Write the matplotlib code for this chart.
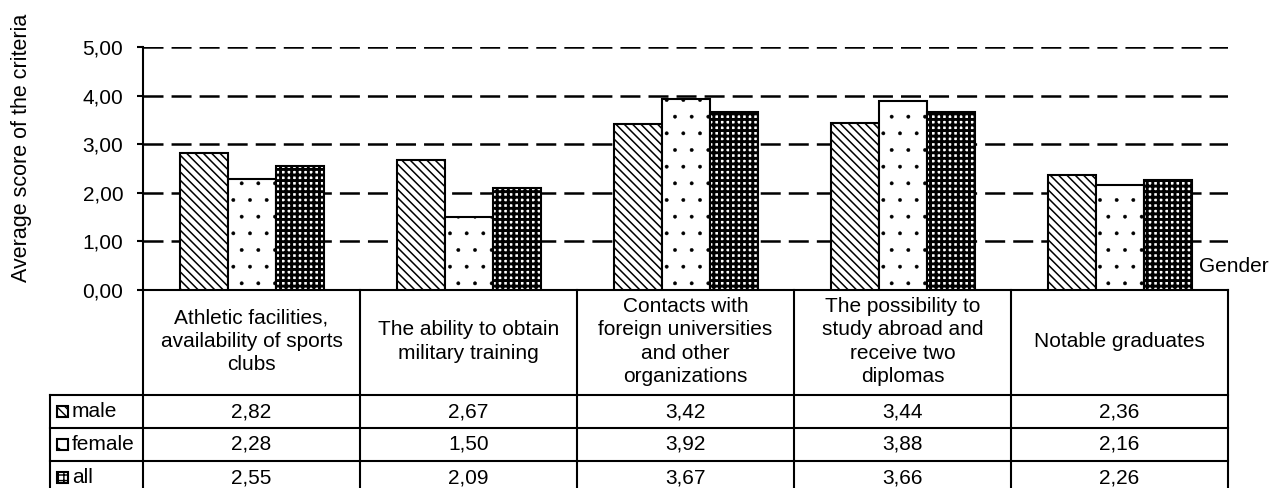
import numpy as np
import matplotlib
matplotlib.use('Agg')
import matplotlib.pyplot as plt
from matplotlib.patches import Rectangle
from matplotlib.ticker import FuncFormatter

# data
categories = ['Athletic facilities,\navailability of sports\nclubs',
              'The ability to obtain\nmilitary training',
              'Contacts with\nforeign universities\nand other\norganizations',
              'The possibility to\nstudy abroad and\nreceive two\ndiplomas',
              'Notable graduates']
series_names = ['male', 'female', 'all']
male = [2.82, 2.67, 3.42, 3.44, 2.36]
female = [2.28, 1.50, 3.92, 3.88, 2.16]
all_ = [2.55, 2.09, 3.67, 3.66, 2.26]
series = [male, female, all_]
hatches = ['\\\\\\\\', '.', '+++']
hatch_lw = [1.1, 0.3, 2.1]
y_ticks = [0, 1, 2, 3, 4, 5]

plt.rcParams['font.family'] = ['Liberation Sans', 'DejaVu Sans']
plt.rcParams['font.size'] = 15
plt.rcParams['lines.scale_dashes'] = False

W, H = 1271, 488
fig = plt.figure(figsize=(W / 100, H / 100), dpi=100)

# main bar axes (pixel layout)
left, right, top, base = 143, 1228, 47, 290
ax = fig.add_axes([left / W, (H - base) / H, (right - left) / W, (base - top) / H])
x = np.arange(len(categories)) + 0.5
bw = 48 / 217
for i, vals in enumerate(series):
    plt.rcParams['hatch.linewidth'] = hatch_lw[i]
    bars = ax.bar(x + (i - 1) * bw, vals, width=bw, color='white', edgecolor='black',
                  linewidth=1.5, hatch=hatches[i], zorder=3)
    for b in bars:
        if hasattr(b, 'set_hatch_linewidth'):
            b.set_hatch_linewidth(hatch_lw[i])

ax.set_xlim(0, len(categories))
ax.set_ylim(0, 5)
ax.set_yticks(y_ticks)
ax.yaxis.set_major_formatter(FuncFormatter(lambda v, p: f'{v:.2f}'.replace('.', ',')))
ax.set_xticks([])
ax.yaxis.grid(True, color='black', linewidth=1.8, linestyle=(0, (14.4, 5.8)), zorder=0)
ax.set_axisbelow(True)
for s in ['top', 'right']:
    ax.spines[s].set_visible(False)
for s in ['left', 'bottom']:
    ax.spines[s].set_linewidth(1.5)
ax.tick_params(axis='y', direction='out', length=4.3, width=1.5, pad=10, labelsize=15)
ax.text((1199 - left) / (right - left), 24 / (base - top), 'Gender', transform=ax.transAxes,
        ha='left', va='center', fontsize=15)

fig.text(22 / W, 1 - 148 / H, 'Average score of the criteria', rotation=90,
         ha='center', va='center', fontsize=15.5)

# data table under the chart
tleft, tbottom = 50, 494
tax = fig.add_axes([tleft / W, (H - tbottom) / H, (right - tleft) / W, (tbottom - base) / H])
tax.set_xlim(-(left - tleft) / 217, len(categories))
tax.set_ylim(tbottom - base, 0)
tax.axis('off')
header_h, row_h = 105, 33
lw = 1.5
# horizontal lines
for k in range(len(series) + 1):
    yy = header_h + k * row_h
    tax.plot([-(left - tleft) / 217, len(categories)], [yy, yy], color='black', lw=lw,
             clip_on=False, solid_capstyle='projecting')
# vertical lines
for j in range(len(categories) + 1):
    tax.plot([j, j], [0, tbottom - base], color='black', lw=lw, clip_on=False,
             solid_capstyle='projecting')
tax.plot([-(left - tleft) / 217] * 2, [header_h, tbottom - base], color='black', lw=lw,
         clip_on=False)

for j, c in enumerate(categories):
    tax.text(j + 0.5, header_h / 2 - 1, c, ha='center', va='center', fontsize=15,
             linespacing=1.3)

for i, (name, vals) in enumerate(zip(series_names, series)):
    yc = header_h + i * row_h + row_h / 2
    plt.rcParams['hatch.linewidth'] = 1.0
    icon = Rectangle(((57 - left) / 217, yc - 5.5), 11 / 217, 11, facecolor='white',
                     edgecolor='black', linewidth=1.5, hatch=hatches[i], clip_on=False)
    tax.add_patch(icon)
    tax.text((72 - left) / 217, yc, name, ha='left', va='center', fontsize=15)
    for j, v in enumerate(vals):
        tax.text(j + 0.5, yc, f'{v:.2f}'.replace('.', ','), ha='center', va='center',
                 fontsize=15)

fig.savefig('out.png', dpi=100)
